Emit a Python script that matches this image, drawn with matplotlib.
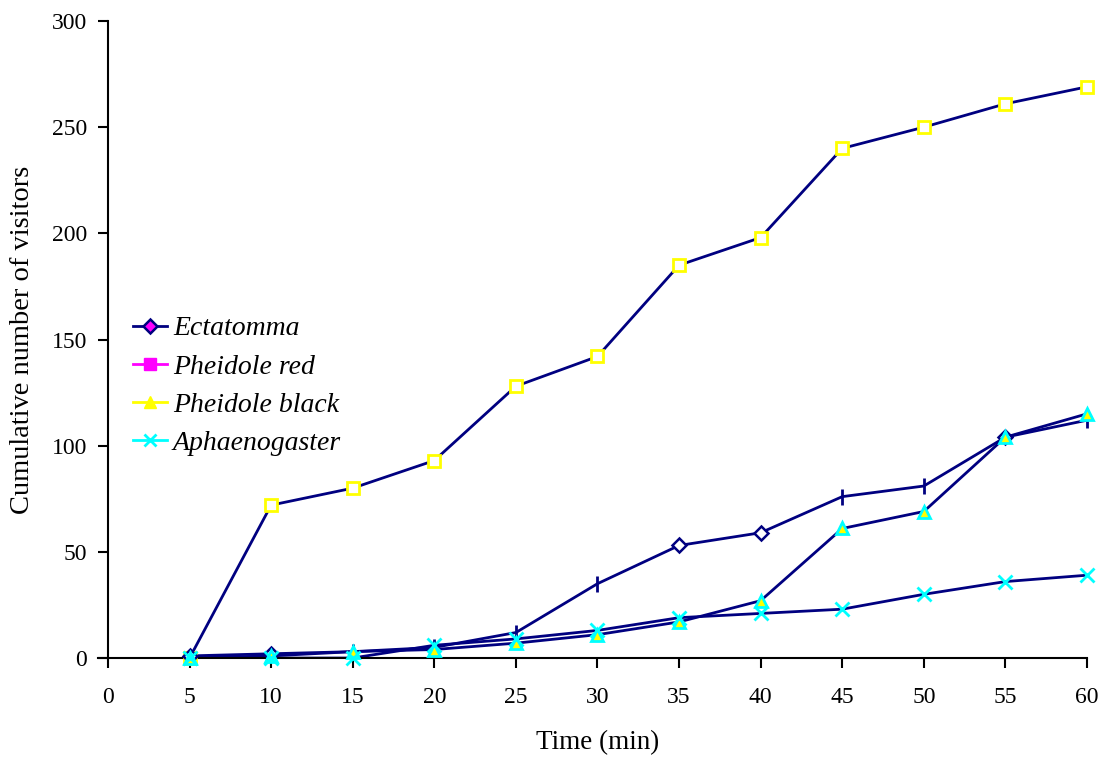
import matplotlib
matplotlib.use("Agg")
import matplotlib.pyplot as plt
from matplotlib.lines import Line2D

time_min = [5, 10, 15, 20, 25, 30, 35, 40, 45, 50, 55, 60]
series_names = ["Ectatomma", "Pheidole red", "Pheidole black", "Aphaenogaster"]
ectatomma = [1, 2, 3, 5, 12, 35, 53, 59, 76, 81, 104, 112]
pheidole_red = [0, 72, 80, 93, 128, 142, 185, 198, 240, 250, 261, 269]
pheidole_black = [0, 1, 3, 4, 7, 11, 17, 27, 61, 69, 104, 115]
aphaenogaster = [0, 0, 0, 6, 9, 13, 19, 21, 23, 30, 36, 39]
x_ticks = list(range(0, 65, 5))
y_ticks = list(range(0, 350, 50))

plt.rcParams['font.family'] = ['Liberation Serif', 'DejaVu Serif']
NAVY = '#000080'

fig = plt.figure(figsize=(11.05, 7.58), dpi=100)
ax = fig.add_axes([0.0977, 0.1319, 0.9837 - 0.0977, 0.9723 - 0.1319])

# lines
ax.plot(time_min, pheidole_red, color=NAVY, lw=2, zorder=2)
ax.plot(time_min, ectatomma, color=NAVY, lw=2, zorder=2)
ax.plot(time_min, pheidole_black, color=NAVY, lw=2, zorder=2)
ax.plot(time_min, aphaenogaster, color=NAVY, lw=2, zorder=2)

# markers as drawn in the plot area
ax.plot(time_min, pheidole_red, ls='none', marker='s', ms=9, mfc='white',
        mec='#FFFF00', mew=2, zorder=3, clip_on=False)
d_idx = [0, 1, 6, 7, 10]
t_idx = [2, 3, 4, 5, 8, 9, 11]
ax.plot([time_min[i] for i in d_idx], [ectatomma[i] for i in d_idx], ls='none',
        marker='D', ms=7, mfc='white', mec=NAVY, mew=1.8, zorder=3, clip_on=False)
ax.plot([time_min[i] for i in t_idx], [ectatomma[i] for i in t_idx], ls='none',
        marker='|', ms=11, mec=NAVY, mew=2, zorder=3, clip_on=False)
ax.plot(time_min, pheidole_black, ls='none', marker='^', ms=9, mfc='#FFFF00',
        mec='#00FFFF', mew=2, zorder=3, clip_on=False)
ax.plot(time_min, aphaenogaster, ls='none', marker='x', ms=10, mec='#00FFFF',
        mew=2, zorder=4, clip_on=False)

ax.set_xlim(0, 60)
ax.set_ylim(0, 300)
ax.set_xticks(x_ticks)
ax.set_yticks(y_ticks)
ax.tick_params(axis='both', labelsize=17, direction='out', length=7, width=1.5,
               colors='black')
ax.tick_params(axis='x', pad=14)
ax.tick_params(axis='y', pad=8)
for s in ['top', 'right']:
    ax.spines[s].set_visible(False)
for s in ['left', 'bottom']:
    ax.spines[s].set_linewidth(1.5)
ax.spines['bottom'].set_bounds(-0.6, 60)
ax.set_xlabel("Time (min)", fontsize=19.5, labelpad=16)
ax.set_ylabel("Cumulative number of visitors", fontsize=20.5, labelpad=12)

handles = [
    Line2D([], [], color=NAVY, lw=2, marker='D', ms=7, mfc='#FF00FF', mec=NAVY, mew=1.8),
    Line2D([], [], color='#FF00FF', lw=2, marker='s', ms=8, mfc='#FF00FF', mec='#FF00FF'),
    Line2D([], [], color='#FFFF00', lw=2, marker='^', ms=9, mfc='#FFFF00', mec='#FFFF00'),
    Line2D([], [], color='#00FFFF', lw=2, marker='x', ms=9, mec='#00FFFF', mew=2),
]
leg = ax.legend(handles, series_names, loc='upper left',
                bbox_to_anchor=(133 / 1105, 1 - 316 / 758), bbox_transform=fig.transFigure,
                frameon=False, prop={'style': 'italic', 'size': 20},
                handlelength=1.22, handletextpad=0.22, labelspacing=0.46,
                borderpad=0, borderaxespad=0)

fig.savefig("out.png", dpi=100)
